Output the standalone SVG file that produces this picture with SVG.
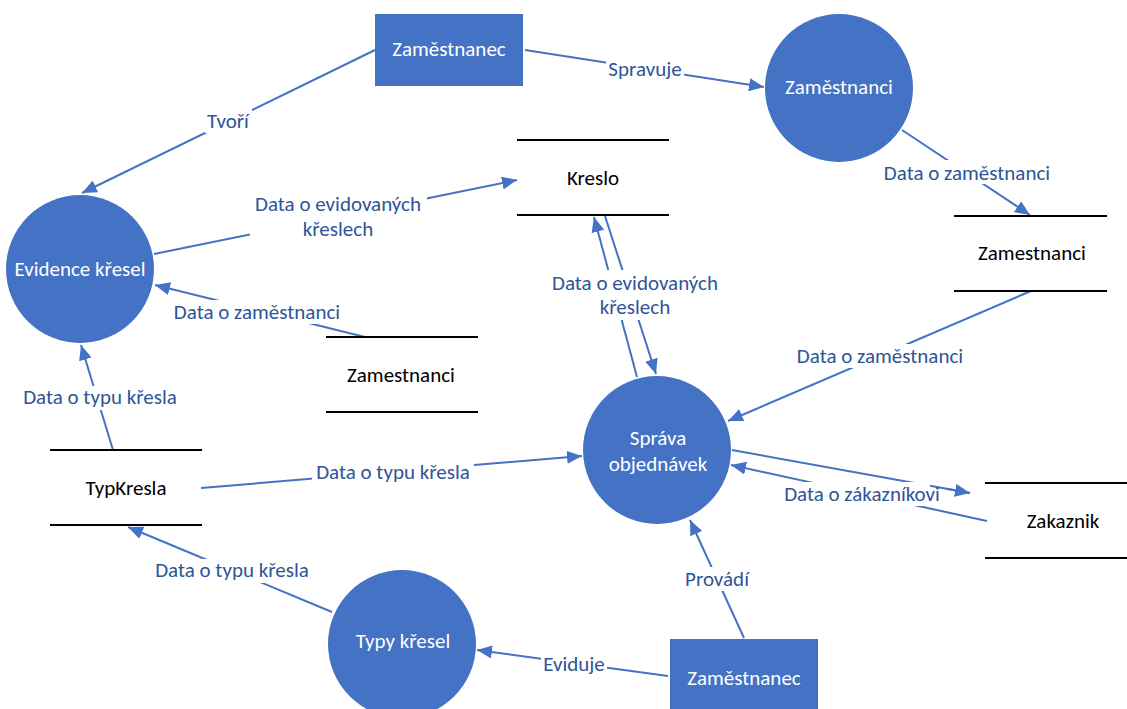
<svg xmlns="http://www.w3.org/2000/svg" width="1127" height="709" viewBox="0 0 1127 709">
  <style>
    .proc { fill: #4472C4; }
    .ext { fill: #4472C4; }
    .store line { stroke: #000; stroke-width: 2; }
    .ntext { font-family: Carlito, Lato, "Liberation Sans", sans-serif; font-size: 21px; fill: #ffffff; text-anchor: middle; }
    .stext { font-family: Carlito, Lato, "Liberation Sans", sans-serif; font-size: 21px; fill: #000000; text-anchor: middle; }
    .flow { stroke: #4472C4; stroke-width: 2; fill: none; }
    .arrow { marker-end: url(#head); }
    .lbl { font-family: Carlito, Lato, "Liberation Sans", sans-serif; font-size: 21px; fill: #2F5597; text-anchor: middle; }
    .lblbg { fill: #ffffff; }
  </style>
  <defs>
    <marker id="head" markerUnits="userSpaceOnUse" markerWidth="15" markerHeight="13" refX="15" refY="6.5" orient="auto">
      <path d="M0,0 L15,6.5 L0,13 z" fill="#4472C4"/>
    </marker>
  </defs>

  <rect width="1127" height="709" fill="#ffffff"/>

  <!-- data flows -->
  <g id="connectors">
    <line class="flow arrow" x1="375" y1="50" x2="82" y2="193"/>
    <line class="flow arrow" x1="525" y1="50" x2="764" y2="87"/>
    <line class="flow arrow" x1="902" y1="130" x2="1030" y2="215"/>
    <line class="flow arrow" x1="154" y1="254" x2="517" y2="180"/>
    <line class="flow arrow" x1="365" y1="337" x2="155" y2="285"/>
    <line class="flow arrow" x1="113" y1="450" x2="81" y2="345"/>
    <line class="flow arrow" x1="201" y1="488" x2="582" y2="456"/>
    <line class="flow arrow" x1="637" y1="377" x2="594" y2="217"/>
    <line class="flow arrow" x1="605" y1="216" x2="656" y2="374"/>
    <line class="flow arrow" x1="1031" y1="291" x2="728" y2="421"/>
    <line class="flow" x1="732" y1="450" x2="970" y2="493"/>
    <line class="flow arrow" x1="987" y1="521" x2="731" y2="465"/>
    <line class="flow arrow" x1="744" y1="638" x2="690" y2="520"/>
    <line class="flow arrow" x1="668" y1="676" x2="477" y2="650"/>
    <line class="flow arrow" x1="332" y1="612" x2="128" y2="527"/>

    <!-- label backgrounds break the lines -->
    <rect class="lblbg" x="205" y="109" width="47" height="24"/>
    <rect class="lblbg" x="606" y="58" width="78" height="24"/>
    <rect class="lblbg" x="881" y="160" width="173" height="24"/>
    <rect class="lblbg" x="250" y="191" width="177" height="50"/>
    <rect class="lblbg" x="173" y="300" width="169" height="24"/>
    <rect class="lblbg" x="17" y="386" width="165" height="24"/>
    <rect class="lblbg" x="312" y="461" width="162" height="24"/>
    <rect class="lblbg" x="546" y="270" width="178" height="50"/>
    <rect class="lblbg" x="794" y="344" width="172" height="24"/>
    <rect class="lblbg" x="778" y="482" width="168" height="24"/>
    <rect class="lblbg" x="684" y="567" width="67" height="24"/>
    <rect class="lblbg" x="541" y="652" width="66" height="24"/>
    <rect class="lblbg" x="150" y="559" width="165" height="24"/>

    <!-- arrow tip into the customer store drawn over its label -->
    <line class="flow arrow" x1="930" y1="485.8" x2="970" y2="493"/>

    <text class="lbl" x="228" y="128">Tvoří</text>
    <text class="lbl" x="645" y="76">Spravuje</text>
    <text class="lbl" x="967" y="180">Data o zaměstnanci</text>
    <text class="lbl" x="338" y="211">Data o evidovaných</text>
    <text class="lbl" x="338" y="236">křeslech</text>
    <text class="lbl" x="257" y="319">Data o zaměstnanci</text>
    <text class="lbl" x="100" y="404">Data o typu křesla</text>
    <text class="lbl" x="393" y="479">Data o typu křesla</text>
    <text class="lbl" x="635" y="290">Data o evidovaných</text>
    <text class="lbl" x="635" y="314">křeslech</text>
    <text class="lbl" x="880" y="363">Data o zaměstnanci</text>
    <text class="lbl" x="862" y="501">Data o zákazníkovi</text>
    <text class="lbl" x="717" y="586">Provádí</text>
    <text class="lbl" x="574" y="671">Eviduje</text>
    <text class="lbl" x="232" y="577">Data o typu křesla</text>
  </g>

  <!-- external entities -->
  <g id="zamestnanec-top">
    <rect class="ext" x="375" y="14" width="148" height="72"/>
    <text class="ntext" x="449" y="56">Zaměstnanec</text>
  </g>
  <g id="zamestnanec-bottom">
    <rect class="ext" x="670" y="639" width="148" height="72"/>
    <text class="ntext" x="744" y="685">Zaměstnanec</text>
  </g>

  <!-- processes -->
  <g id="proc-zamestnanci">
    <circle class="proc" cx="839" cy="88" r="74"/>
    <text class="ntext" x="839" y="94">Zaměstnanci</text>
  </g>
  <g id="proc-evidence">
    <circle class="proc" cx="80" cy="269" r="74"/>
    <text class="ntext" x="80" y="276">Evidence křesel</text>
  </g>
  <g id="proc-sprava">
    <circle class="proc" cx="657" cy="450" r="74"/>
    <text class="ntext" x="658" y="445">Správa</text>
    <text class="ntext" x="658" y="471">objednávek</text>
  </g>
  <g id="proc-typy">
    <circle class="proc" cx="402" cy="644" r="74"/>
    <text class="ntext" x="403" y="648">Typy křesel</text>
  </g>

  <!-- data stores -->
  <g id="store-kreslo" class="store">
    <line x1="517" y1="140" x2="669" y2="140"/>
    <line x1="517" y1="215" x2="669" y2="215"/>
    <text class="stext" x="593" y="185">Kreslo</text>
  </g>
  <g id="store-zamestnanci-right" class="store">
    <line x1="954" y1="216" x2="1107" y2="216"/>
    <line x1="954" y1="291" x2="1107" y2="291"/>
    <text class="stext" x="1032" y="260">Zamestnanci</text>
  </g>
  <g id="store-zamestnanci-mid" class="store">
    <line x1="326" y1="337" x2="478" y2="337"/>
    <line x1="326" y1="412" x2="478" y2="412"/>
    <text class="stext" x="401" y="382">Zamestnanci</text>
  </g>
  <g id="store-typkresla" class="store">
    <line x1="50" y1="450" x2="202" y2="450"/>
    <line x1="50" y1="525" x2="202" y2="525"/>
    <text class="stext" x="126" y="495">TypKresla</text>
  </g>
  <g id="store-zakaznik" class="store">
    <line x1="985" y1="483" x2="1137" y2="483"/>
    <line x1="985" y1="558" x2="1137" y2="558"/>
    <text class="stext" x="1063" y="528">Zakaznik</text>
  </g>
</svg>
